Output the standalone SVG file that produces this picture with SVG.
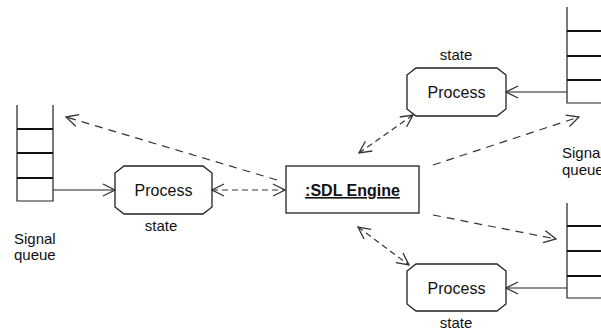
<svg xmlns="http://www.w3.org/2000/svg" width="601" height="330" viewBox="0 0 601 330">
<style>
.lbl{font-family:"Liberation Sans",Arial,sans-serif;font-size:15px;fill:#111}
.proc{font-family:"Liberation Sans",Arial,sans-serif;font-size:16px;fill:#111;text-anchor:middle}
.oct{fill:#fff;stroke:#222;stroke-width:1.3}
.q{fill:none;stroke:#222;stroke-width:1.2}
.qd{stroke:#111;stroke-width:2.2}
.solid{fill:none;stroke:#222;stroke-width:1.1}
.dash{fill:none;stroke:#333;stroke-width:1.2;stroke-dasharray:8,6}
.dash2{fill:none;stroke:#333;stroke-width:1.2;stroke-dasharray:6,4}
</style>
<defs>
<marker id="ah" viewBox="0 0 14 14" refX="13" refY="7" markerWidth="14" markerHeight="14" markerUnits="userSpaceOnUse" orient="auto-start-reverse">
<path d="M1,1 L13,7 L1,13" fill="none" stroke="#333" stroke-width="1.3"/>
</marker>
</defs>
<g id="queue-left">
<path class="q" d="M17,105 V201 H53 V105"/>
<line class="qd" x1="17" y1="129" x2="53" y2="129"/>
<line class="qd" x1="17" y1="153" x2="53" y2="153"/>
<line class="qd" x1="17" y1="178" x2="53" y2="178"/>
<text class="lbl" x="14" y="244">Signal</text>
<text class="lbl" x="14" y="260">queue</text>
</g>
<g id="process-left">
<polygon class="oct" points="124,166 203,166 212,173 212,207 203,214 124,214 115,207 115,173"/>
<text class="proc" x="163.5" y="196">Process</text>
<text class="proc" x="161" y="231" style="font-size:15px">state</text>
</g>
<g id="sdl-engine">
<rect x="286" y="166" width="133" height="47" fill="#fff" stroke="#222" stroke-width="1.3"/>
<text x="352.5" y="196" text-anchor="middle" font-family="'Liberation Sans',Arial,sans-serif" font-size="16" font-weight="bold" fill="#111" text-decoration="underline">:SDL Engine</text>
</g>
<g id="process-top">
<polygon class="oct" points="416,68 497,68 506,75 506,109 497,116 416,116 407,109 407,75"/>
<text class="proc" x="456.5" y="98">Process</text>
<text class="proc" x="456" y="60" style="font-size:15px">state</text>
</g>
<g id="queue-top">
<path class="q" d="M567,7 V103 H605"/>
<line class="qd" x1="567" y1="31" x2="605" y2="31"/>
<line class="qd" x1="567" y1="56" x2="605" y2="56"/>
<line class="qd" x1="567" y1="80" x2="605" y2="80"/>
<text class="lbl" x="562" y="158">Signal</text>
<text class="lbl" x="562" y="175">queue</text>
</g>
<g id="process-bottom">
<polygon class="oct" points="416,264 497,264 506,271 506,304 497,311 416,311 407,304 407,271"/>
<text class="proc" x="456.5" y="294">Process</text>
<text class="proc" x="456" y="328" style="font-size:15px">state</text>
</g>
<g id="queue-bottom">
<path class="q" d="M567,203 V298 H605"/>
<line class="qd" x1="567" y1="226" x2="605" y2="226"/>
<line class="qd" x1="567" y1="251" x2="605" y2="251"/>
<line class="qd" x1="567" y1="276" x2="605" y2="276"/>
</g>
<g id="connectors">
<line class="solid" x1="53" y1="190" x2="115" y2="190" marker-end="url(#ah)"/>
<line class="solid" x1="567" y1="92" x2="506" y2="92" marker-end="url(#ah)"/>
<line class="solid" x1="567" y1="288" x2="506" y2="288" marker-end="url(#ah)"/>
<line class="dash2" x1="212" y1="190" x2="285" y2="190" marker-start="url(#ah)" marker-end="url(#ah)"/>
<line class="dash" x1="277" y1="180" x2="66" y2="117" marker-end="url(#ah)"/>
<line class="dash" x1="433" y1="165" x2="579" y2="117" marker-end="url(#ah)"/>
<line class="dash" x1="433" y1="215" x2="556" y2="239" marker-end="url(#ah)"/>
<line class="dash2" x1="359" y1="153" x2="413" y2="115" marker-start="url(#ah)" marker-end="url(#ah)"/>
<line class="dash2" x1="358" y1="227" x2="409" y2="265" marker-start="url(#ah)" marker-end="url(#ah)"/>
</g>
</svg>
